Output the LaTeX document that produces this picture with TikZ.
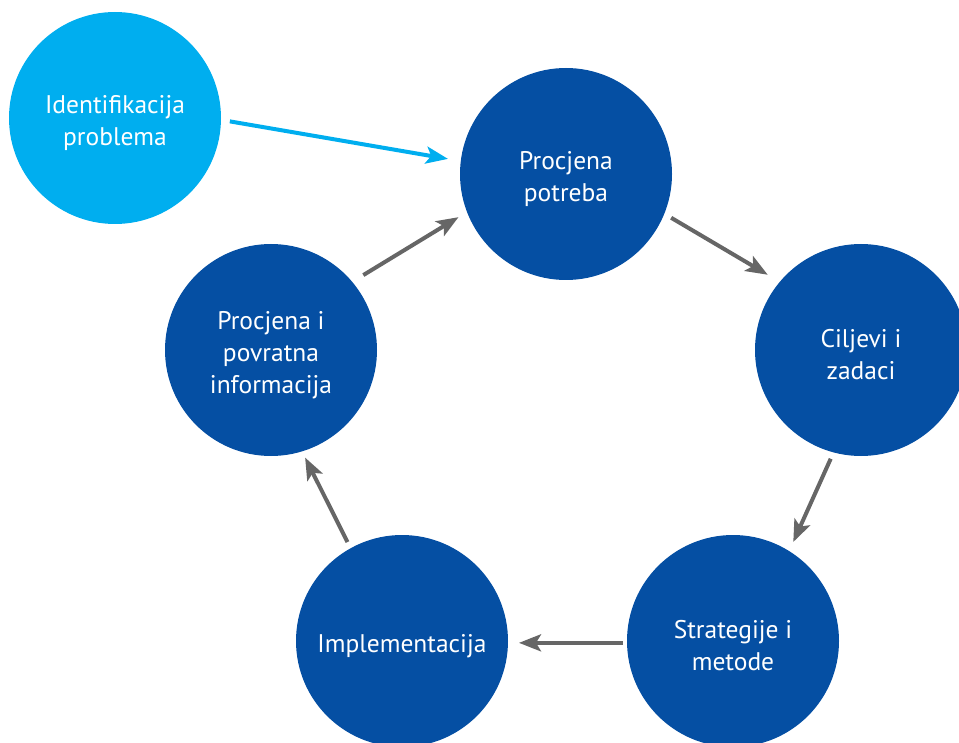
\documentclass[tikz,border=0pt]{standalone}
\usepackage{fontspec}
\setmainfont{PT Sans}
\usetikzlibrary{arrows.meta}
\definecolor{darkblue}{HTML}{054FA3}
\definecolor{lightblue}{HTML}{00AEEF}
\definecolor{arrgray}{HTML}{666666}
\begin{document}
\begin{tikzpicture}[x=1pt,y=-1pt,
  stage/.style={circle,fill=darkblue,draw=none,minimum size=212pt,inner sep=0pt,outer sep=0pt},
  stagetext/.style={text=white,align=center,font=\fontsize{25.5}{32}\selectfont,yshift=-5pt},
  startstage/.style={stage,fill=lightblue},
  arr/.style={draw=arrgray,line width=4pt,-{Stealth[length=22pt,width=17pt,inset=5pt]}},
  bluearr/.style={arr,draw=lightblue}]
\useasboundingbox (0,0) rectangle (959,743);
\node[startstage,label={[stagetext]center:Identifikacija\\problema}] (id) at (115,118) {};
\node[stage,label={[stagetext]center:Procjena\\potreba}] (pp) at (566,174) {};
\node[stage,label={[stagetext]center:Ciljevi i\\zadaci}] (cz) at (861,350) {};
\node[stage,label={[stagetext]center:Strategije i\\metode}] (sm) at (733,641) {};
\node[stage,label={[stagetext]center:Implementacija}] (im) at (402,641) {};
\node[stage,label={[stagetext]center:Procjena i\\povratna\\informacija}] (ppi) at (271,350) {};
\draw[bluearr,shorten <=9pt,shorten >=13pt] (id.-1) -- (pp.173);
\draw[arr,shorten <=8pt,shorten >=14pt] (pp.-22) -- (cz.140);
\draw[arr,shorten <=7pt,shorten >=10pt] (cz.255.6) -- (sm.58.8);
\draw[arr,shorten <=4pt,shorten >=11pt] (sm.181.5) -- (im.-1.5);
\draw[arr,shorten <=7pt,shorten >=7pt] (im.119) -- (ppi.-73);
\draw[arr,shorten <=13pt,shorten >=10pt] (ppi.40.9) -- (pp.201.7);
\end{tikzpicture}
\end{document}
